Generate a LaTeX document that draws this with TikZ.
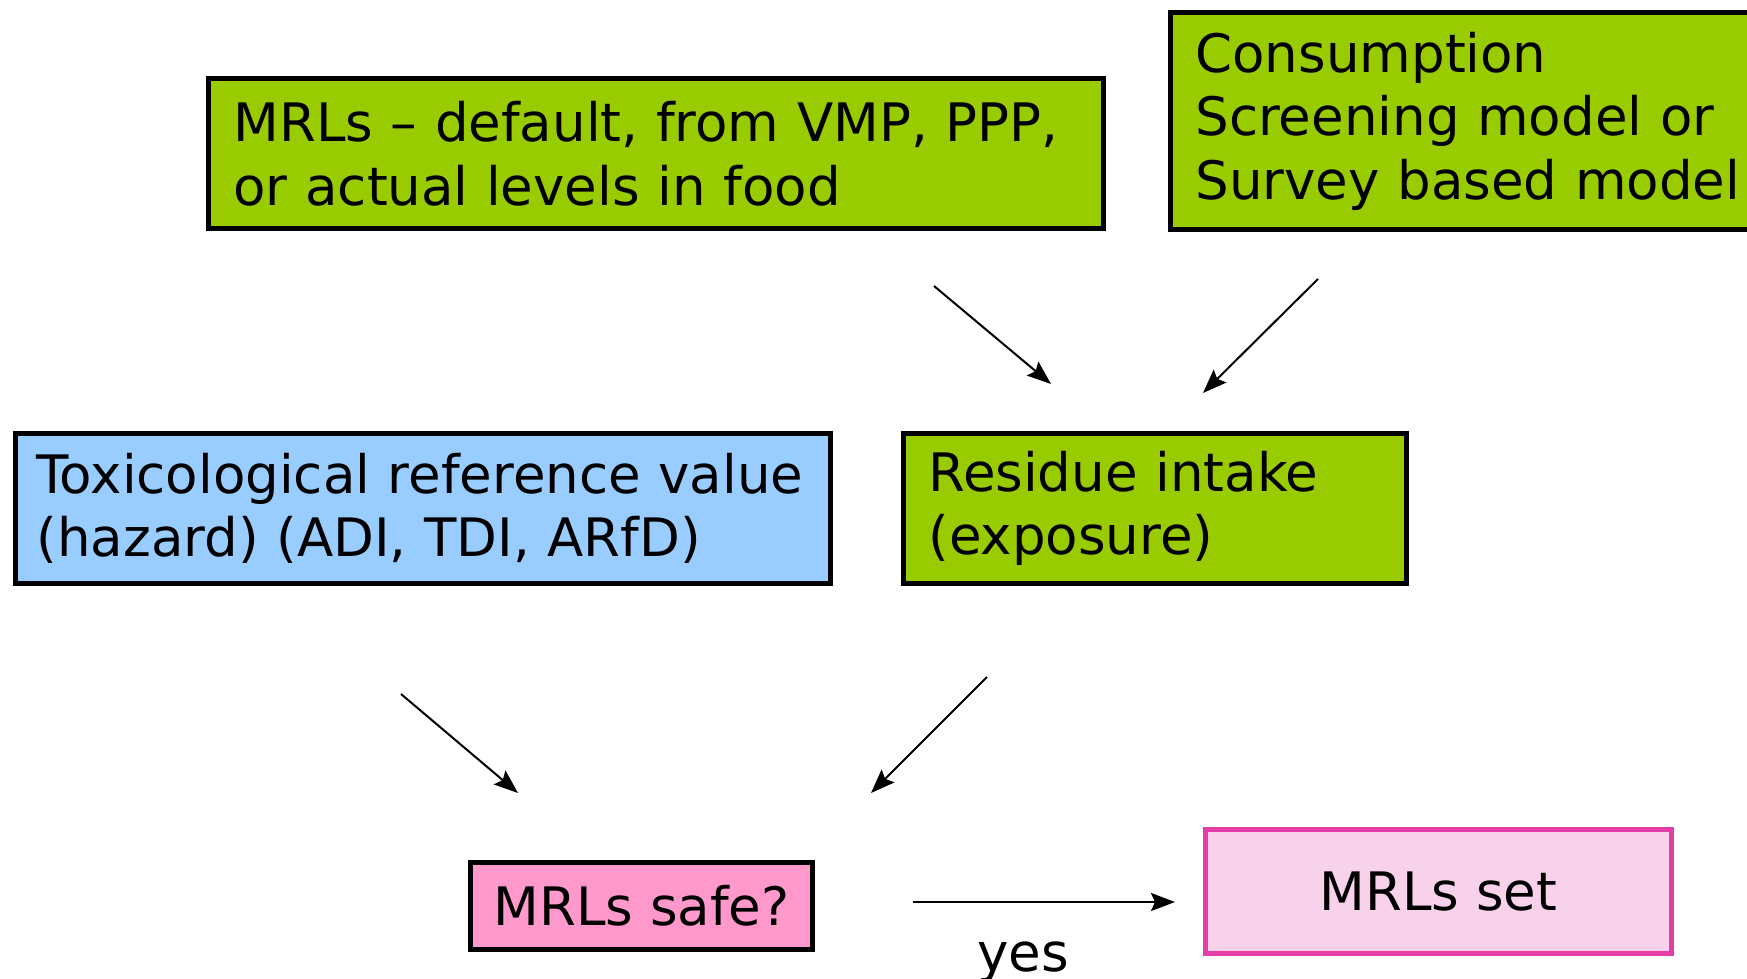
\documentclass[tikz,border=0pt]{standalone}
\usepackage{fontspec}
\setmainfont{DejaVu Sans}
\usepackage{tikz}
\usetikzlibrary{arrows.meta}
\newcommand{\pixel}{1pt}
\definecolor{limebox}{HTML}{99CC00}
\definecolor{skybox}{HTML}{99CCFF}
\definecolor{rosebox}{HTML}{FF99CC}
\definecolor{paleset}{HTML}{F8D1EB}
\definecolor{magentaline}{HTML}{E33DA6}

\tikzset{
	flowbox/.style={draw=black, line width=5pt, anchor=north west, align=left,
		inner xsep=25pt, inner ysep=0pt, font=\fontsize{53}{63.5}\selectfont},
	flowarrow/.style={line width=2pt, -{Stealth[length=24pt,width=18pt,inset=4pt]}}
}

\begin{document}
\begin{tikzpicture}[x=\pixel,y=-\pixel]
	\useasboundingbox (0,0) rectangle (1747,979);
	\clip (0,0) rectangle (1747,979);

	% inputs
	\node[flowbox, fill=limebox, minimum width=895pt, minimum height=150pt, text width=845pt]
		(mrls) at (206,76) {MRLs -- default, from VMP, PPP,\\or actual levels in food};
	\node[flowbox, fill=limebox, minimum width=640pt, minimum height=217pt, text width=590pt]
		(consumption) at (1168,10) {Consumption\\Screening model or\\Survey based model};

	% middle row
	\node[flowbox, fill=skybox, minimum width=815pt, minimum height=150pt, inner xsep=21pt, text width=773pt]
		(toxref) at (13,431) {Toxicological reference value\\(hazard) (ADI, TDI, ARfD)};
	\node[flowbox, fill=limebox, minimum width=503pt, minimum height=150pt, text width=453pt]
		(intake) at (901,431) {Residue intake\\(exposure)};

	% outcome
	\node[flowbox, fill=rosebox, minimum width=342pt, minimum height=87pt, align=center, inner xsep=0pt]
		(safe) at (468,860) {MRLs safe?};
	\node[flowbox, fill=paleset, draw=magentaline, minimum width=466pt, minimum height=124pt, align=center, inner xsep=0pt]
		(mrlset) at (1203,827) {MRLs set};

	\coordinate (mrls-out) at (934,286);
	\coordinate (cons-out) at (1318,279);
	\coordinate (intake-in1) at (1051,384);
	\coordinate (intake-in2) at (1203,393);
	\coordinate (tox-out) at (401,694);
	\coordinate (intake-out) at (987,677);
	\coordinate (safe-in1) at (518,793);
	\coordinate (safe-in2) at (871,793);
	\coordinate (safe-out) at (913,902);
	\coordinate (set-in) at (1175,902);

	\draw[flowarrow] (mrls-out) -- (intake-in1);
	\draw[flowarrow] (cons-out) -- (intake-in2);
	\draw[flowarrow] (tox-out) -- (safe-in1);
	\draw[flowarrow] (intake-out) -- (safe-in2);
	\draw[flowarrow] (safe-out) -- node[pos=0.42, anchor=base, yshift=-69pt,
		font=\fontsize{53}{63.5}\selectfont] (yes) {yes} (set-in);

\end{tikzpicture}
\end{document}
